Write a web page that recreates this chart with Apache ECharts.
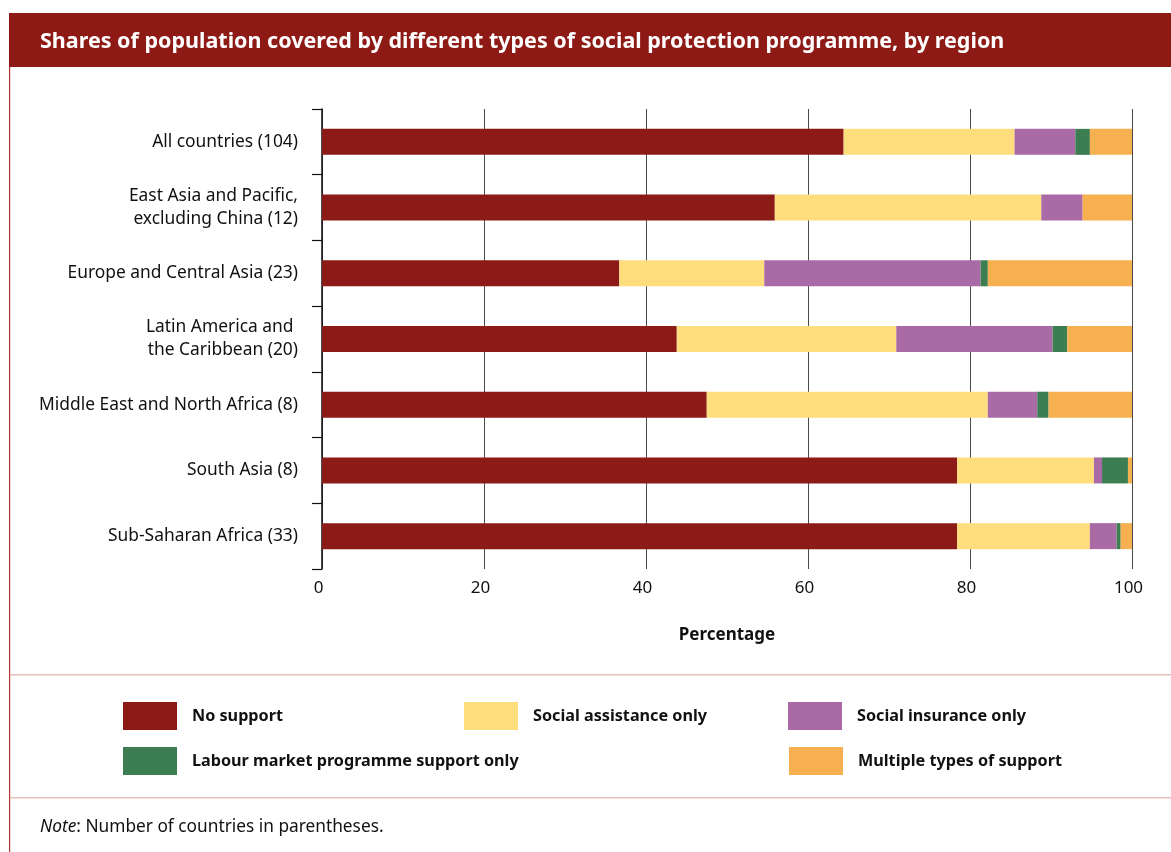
<!DOCTYPE html>
<html>
<head>
<meta charset="utf-8">
<script src="https://cdn.jsdelivr.net/npm/echarts@6/dist/echarts.min.js"></script>
<style>html,body{margin:0;padding:0;background:#fff;}#chart{width:1171px;height:852px;}</style>
</head>
<body>
<div id="chart"></div>
<script>
const categories = [
  "All countries (104)",
  "East Asia and Pacific,\nexcluding China (12)",
  "Europe and Central Asia (23)",
  "Latin America and \nthe Caribbean (20)",
  "Middle East and North Africa (8)",
  "South Asia (8)",
  "Sub-Saharan Africa (33)"
];
const noSupport        = [64.4, 55.9, 36.7, 43.8, 47.5, 78.4, 78.4];
const socialAssistance = [21.1, 32.9, 17.9, 27.1, 34.7, 16.9, 16.4];
const socialInsurance  = [7.5, 5.1, 26.7, 19.3, 6.1, 1.0, 3.3];
const labourMarket     = [1.8, 0.0, 0.9, 1.8, 1.4, 3.2, 0.5];
const multipleTypes    = [5.2, 6.1, 17.8, 8.0, 10.3, 0.5, 1.4];
const xTicks = [0, 20, 40, 60, 80, 100];

const seriesNames = ["No support", "Social assistance only", "Social insurance only",
  "Labour market programme support only", "Multiple types of support"];
const seriesData = [noSupport, socialAssistance, socialInsurance, labourMarket, multipleTypes];
const colors = ["#8C1A16", "#FEDD7C", "#A96AA6", "#3C7D52", "#F6B04F"];

const FONT = "'Noto Sans', 'Open Sans', sans-serif";
const chart = echarts.init(document.getElementById('chart'), null, {renderer: 'canvas'});

const legendPos = [
  {left: 123, top: 702},
  {left: 464, top: 702},
  {left: 788, top: 702},
  {left: 123, top: 747},
  {left: 789, top: 747}
];

const option = {
  animation: false,
  backgroundColor: '#ffffff',
  color: colors,
  title: {
    text: "Shares of population covered by different types of social protection programme, by region",
    left: 40, top: 27,
    padding: 0,
    z: 10,
    textStyle: {color: '#ffffff', fontFamily: FONT, fontWeight: 'bold', fontSize: 21.5, lineHeight: 30}
  },
  graphic: [
    {type: 'rect', z: 1, shape: {x: 9, y: 13, width: 1162, height: 54}, style: {fill: '#8E1A16'}},
    {type: 'rect', z: 1, shape: {x: 9, y: 67, width: 1.2, height: 785}, style: {fill: '#B33A33'}},
    {type: 'rect', z: 1, shape: {x: 10, y: 674, width: 1161, height: 1.5}, style: {fill: '#E3C2B9'}},
    {type: 'rect', z: 1, shape: {x: 10, y: 797, width: 1161, height: 1.5}, style: {fill: '#E3C2B9'}},
    {
      type: 'text', z: 10, left: 40, top: 819,
      style: {
        text: '{i|Note}: Number of countries in parentheses.',
        fill: '#111', font: "17.3px " + FONT,
        rich: {i: {fontStyle: 'italic', fontFamily: FONT, fontSize: 17.3, fill: '#111'}}
      }
    }
  ],
  legend: seriesNames.map((n, i) => ({
    data: [n],
    left: legendPos[i].left,
    top: legendPos[i].top,
    orient: 'horizontal',
    padding: 0,
    icon: 'rect',
    itemWidth: 54,
    itemHeight: 28,
    selectedMode: false,
    textStyle: {fontFamily: FONT, fontWeight: 'bold', fontSize: 16.2, color: '#111', padding: [0, 0, 0, 10]}
  })),
  grid: {left: 322, right: 39, top: 109, bottom: 283, containLabel: false},
  xAxis: {
    type: 'value',
    min: xTicks[0], max: xTicks[xTicks.length - 1], interval: 20,
    axisLine: {show: false},
    axisTick: {show: false},
    splitLine: {show: true, lineStyle: {color: '#4a4a4a', width: 1}},
    axisLabel: {margin: 11, fontFamily: FONT, fontSize: 17, color: '#111', padding: [0, 7, 0, 0]},
    name: 'Percentage',
    nameLocation: 'middle',
    nameGap: 58,
    nameTextStyle: {fontFamily: FONT, fontWeight: 'bold', fontSize: 17, color: '#111'}
  },
  yAxis: {
    type: 'category',
    inverse: true,
    data: categories,
    axisLine: {show: true, lineStyle: {color: '#111', width: 1.5}},
    axisTick: {show: true, length: 10, lineStyle: {color: '#111', width: 1.2}},
    axisLabel: {margin: 24, fontFamily: FONT, fontSize: 17.4, color: '#111', lineHeight: 23, align: 'right', padding: [4, 0, 0, 0]}
  },
  series: seriesNames.map((n, i) => ({
    name: n,
    type: 'bar',
    stack: 'total',
    barWidth: 26,
    data: seriesData[i],
    itemStyle: {color: colors[i]}
  }))
};
chart.setOption(option);
</script>
</body>
</html>
